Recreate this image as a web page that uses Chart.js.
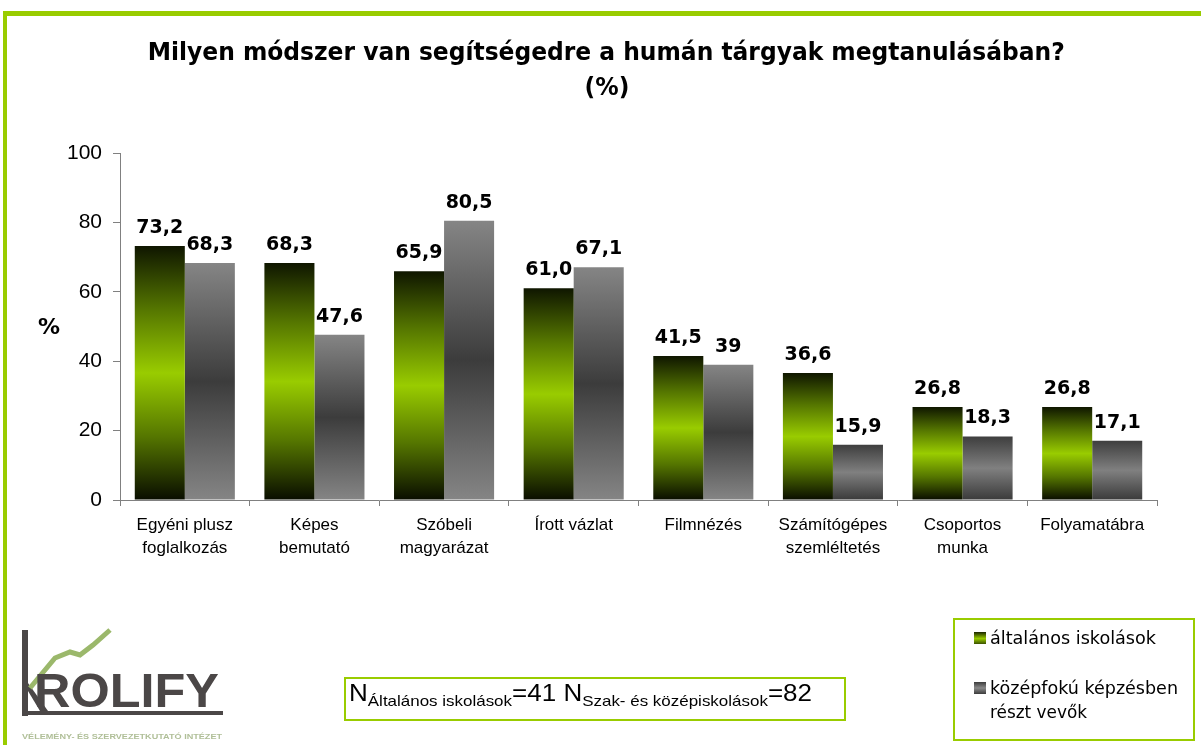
<!DOCTYPE html>
<html>
<head>
<meta charset="utf-8">
<script src="https://cdn.jsdelivr.net/npm/chart.js@4/dist/chart.umd.min.js"></script>
<style>
  html,body{margin:0;padding:0;background:#fff;}
  #wrap{position:relative;width:1201px;height:745px;overflow:hidden;background:#fff;}
  #c{position:absolute;left:0;top:0;}
  .abs{position:absolute;white-space:nowrap;}
  .fit{display:inline-block;transform-origin:left center;}
  #frame{position:absolute;left:3px;top:11px;width:1300px;height:800px;border-top:5px solid #99cc00;border-left:4px solid #99cc00;box-sizing:border-box;}
  .title{font-family:"DejaVu Sans",Verdana,sans-serif;font-weight:bold;font-size:25px;line-height:30px;color:#000;}
  #legend{position:absolute;left:953px;top:618px;width:242px;height:123px;border:2px solid #99cc00;box-sizing:border-box;}
  .lg{font-family:"DejaVu Sans",Verdana,sans-serif;font-size:18px;color:#000;}
  .sw{position:absolute;width:12px;height:12px;}
  #nbox{position:absolute;left:344px;top:677px;width:502px;height:44px;border:2px solid #99cc00;box-sizing:border-box;}
  .nt{font-family:"Liberation Sans",Arial,sans-serif;color:#000;}
</style>
</head>
<body>
<div id="wrap">
  <canvas id="c" width="1201" height="745"></canvas>
  <div id="frame"></div>

  <div class="abs title" style="left:0;top:37px;width:1212px;text-align:center;"><span id="t1" style="display:inline-block;transform-origin:center center;">Milyen módszer van segítségedre a humán tárgyak megtanulásában?</span></div>
  <div class="abs title" style="left:0;top:72px;width:1214px;text-align:center;"><span id="t2" style="display:inline-block;transform-origin:center center;">(%)</span></div>

  <div class="abs" style="left:38px;top:314px;font-family:'DejaVu Sans',Verdana,sans-serif;font-weight:bold;font-size:22px;">%</div>

  <div id="legend"></div>
  <div class="sw" style="left:974px;top:632px;background:linear-gradient(#1a2400,#99cc00 55%,#3a5000);"></div>
  <div class="abs lg" style="left:990px;top:627px;"><span class="fit" data-w="166">általános iskolások</span></div>
  <div class="sw" style="left:974px;top:682px;background:linear-gradient(#3c3c3c,#8a8a8a 50%,#3c3c3c);"></div>
  <div class="abs lg" style="left:990px;top:677px;"><span class="fit" data-w="188">középfokú képzésben</span></div>
  <div class="abs lg" style="left:990px;top:701px;"><span class="fit" data-w="97">részt vevők</span></div>

  <div id="nbox"></div>
  <div class="abs nt" style="left:349px;top:680px;"><span class="fit" data-w="463"><span style="font-size:23px;">N</span><span style="font-size:15px;position:relative;top:5px;">Általános iskolások</span><span style="font-size:23px;">=41 N</span><span style="font-size:15px;position:relative;top:5px;">Szak- és középiskolások</span><span style="font-size:23px;">=82</span></span></div>

  <svg class="abs" style="left:18px;top:625px;" width="210" height="118" viewBox="0 0 210 118">
    <rect x="4" y="5" width="6" height="86" fill="#4b4747"/>
    <rect x="4" y="86" width="201" height="4" fill="#4b4747"/>
    <polygon points="10,58 10,66 22,86 30,86" fill="#4b4747"/>
    <polyline points="12,63 37,33 52,27 62,30 75,20 92,5" fill="none" stroke="#9bb86b" stroke-width="5"/>
    <text x="16" y="82" font-family="Liberation Sans, Arial, sans-serif" font-weight="bold" font-size="48" fill="#4b4747" textLength="185" lengthAdjust="spacingAndGlyphs">ROLIFY</text>
    <text x="4" y="114" font-family="Liberation Sans, Arial, sans-serif" font-weight="bold" font-size="8" fill="#b0bf98" textLength="200" lengthAdjust="spacingAndGlyphs">VÉLEMÉNY- ÉS SZERVEZETKUTATÓ INTÉZET</text>
  </svg>
</div>

<script>
// ---- Data ----
const categories = [
  ["Egyéni plusz", "foglalkozás"],
  ["Képes", "bemutató"],
  ["Szóbeli", "magyarázat"],
  ["Írott vázlat"],
  ["Filmnézés"],
  ["Számítógépes", "szemléltetés"],
  ["Csoportos", "munka"],
  ["Folyamatábra"]
];
const seriesNames = ["általános iskolások", "középfokú képzésben részt vevők"];
const valuesAltalanos = [73.2, 68.3, 65.9, 61.0, 41.5, 36.6, 26.8, 26.8];
const valuesKozepfoku = [68.3, 47.6, 80.5, 67.1, 39, 15.9, 18.3, 17.1];
const labelsAltalanos = ["73,2", "68,3", "65,9", "61,0", "41,5", "36,6", "26,8", "26,8"];
const labelsKozepfoku = ["68,3", "47,6", "80,5", "67,1", "39", "15,9", "18,3", "17,1"];
const yTickValues = [0, 20, 40, 60, 80, 100];

// ---- fit text widths ----
document.querySelectorAll('.fit').forEach(el => {
  const w = parseFloat(el.dataset.w);
  const r = el.getBoundingClientRect().width;
  if (r > 0) el.style.transform = 'scaleX(' + (w / r) + ')';
});
(function(){
  const t = document.getElementById('t1');
  const r = t.getBoundingClientRect().width;
  const k = r > 0 ? 917 / r : 1;
  t.style.transform = 'scaleX(' + k + ')';
  document.getElementById('t2').style.transform = 'scaleX(' + k + ')';
})();

function barGradient(context, stops, fallback) {
  const chart = context.chart;
  if (!chart.chartArea || context.raw === undefined) return fallback;
  const y = chart.scales.y;
  const top = y.getPixelForValue(context.raw);
  const bot = y.getPixelForValue(0);
  if (!isFinite(top) || !isFinite(bot) || bot - top < 1) return fallback;
  const g = chart.ctx.createLinearGradient(0, top, 0, bot);
  stops.forEach(s => g.addColorStop(s[0], s[1]));
  return g;
}
const greenStops = [[0, '#0f1600'], [0.25, '#557600'], [0.5, '#99cc00'], [0.75, '#557600'], [1, '#090d00']];
const greyStopsTall = [[0, '#858585'], [0.5, '#3c3c3c'], [1, '#858585']];
const greyStopsShort = [[0, '#3e3e3e'], [0.5, '#808080'], [1, '#3a3a3a']];

const valueLabelPlugin = {
  id: 'valueLabels',
  afterDatasetsDraw(chart) {
    const ctx = chart.ctx;
    const sets = [labelsAltalanos, labelsKozepfoku];
    ctx.save();
    ctx.font = 'bold 19px "DejaVu Sans", Verdana, sans-serif';
    ctx.fillStyle = '#000';
    ctx.textAlign = 'center';
    ctx.textBaseline = 'alphabetic';
    chart.data.datasets.forEach((ds, di) => {
      const meta = chart.getDatasetMeta(di);
      meta.data.forEach((el, i) => {
        ctx.fillText(sets[di][i], el.x, el.y - 13);
      });
    });
    ctx.restore();
  }
};

new Chart(document.getElementById('c'), {
  type: 'bar',
  data: {
    labels: categories,
    datasets: [
      {
        label: seriesNames[0],
        data: valuesAltalanos,
        backgroundColor: ctx => barGradient(ctx, greenStops, '#99cc00'),
        borderWidth: 0,
        categoryPercentage: 0.772,
        barPercentage: 1
      },
      {
        label: seriesNames[1],
        data: valuesKozepfoku,
        backgroundColor: ctx => barGradient(ctx, (ctx.raw !== undefined && ctx.raw < 20) ? greyStopsShort : greyStopsTall, '#808080'),
        borderWidth: 0,
        categoryPercentage: 0.772,
        barPercentage: 1
      }
    ]
  },
  options: {
    responsive: false,
    animation: false,
    devicePixelRatio: 1,
    layout: { padding: { top: 153, right: 44, left: 0, bottom: 0 } },
    plugins: {
      legend: { display: false },
      title: { display: false },
      tooltip: { enabled: false }
    },
    scales: {
      x: {
        afterFit: s => { s.height = 245; },
        border: { display: true, color: '#808080', width: 1 },
        grid: { display: true, drawOnChartArea: false, drawTicks: true, tickLength: 6, color: '#808080', offset: true },
        ticks: {
          color: '#000',
          font: { family: '"Liberation Sans", Arial, sans-serif', size: 17, lineHeight: 1.35 },
          padding: 8,
          maxRotation: 0,
          autoSkip: false
        }
      },
      y: {
        min: 0,
        max: 100,
        afterFit: s => { s.width = 120; },
        afterBuildTicks: s => { s.ticks = yTickValues.map(v => ({ value: v })); },
        border: { display: true, color: '#808080', width: 1 },
        grid: { display: true, drawOnChartArea: false, drawTicks: true, tickLength: 7, color: '#808080' },
        ticks: {
          color: '#000',
          font: { family: '"Liberation Sans", Arial, sans-serif', size: 21 },
          padding: 11
        }
      }
    }
  },
  plugins: [valueLabelPlugin]
});
</script>
</body>
</html>
